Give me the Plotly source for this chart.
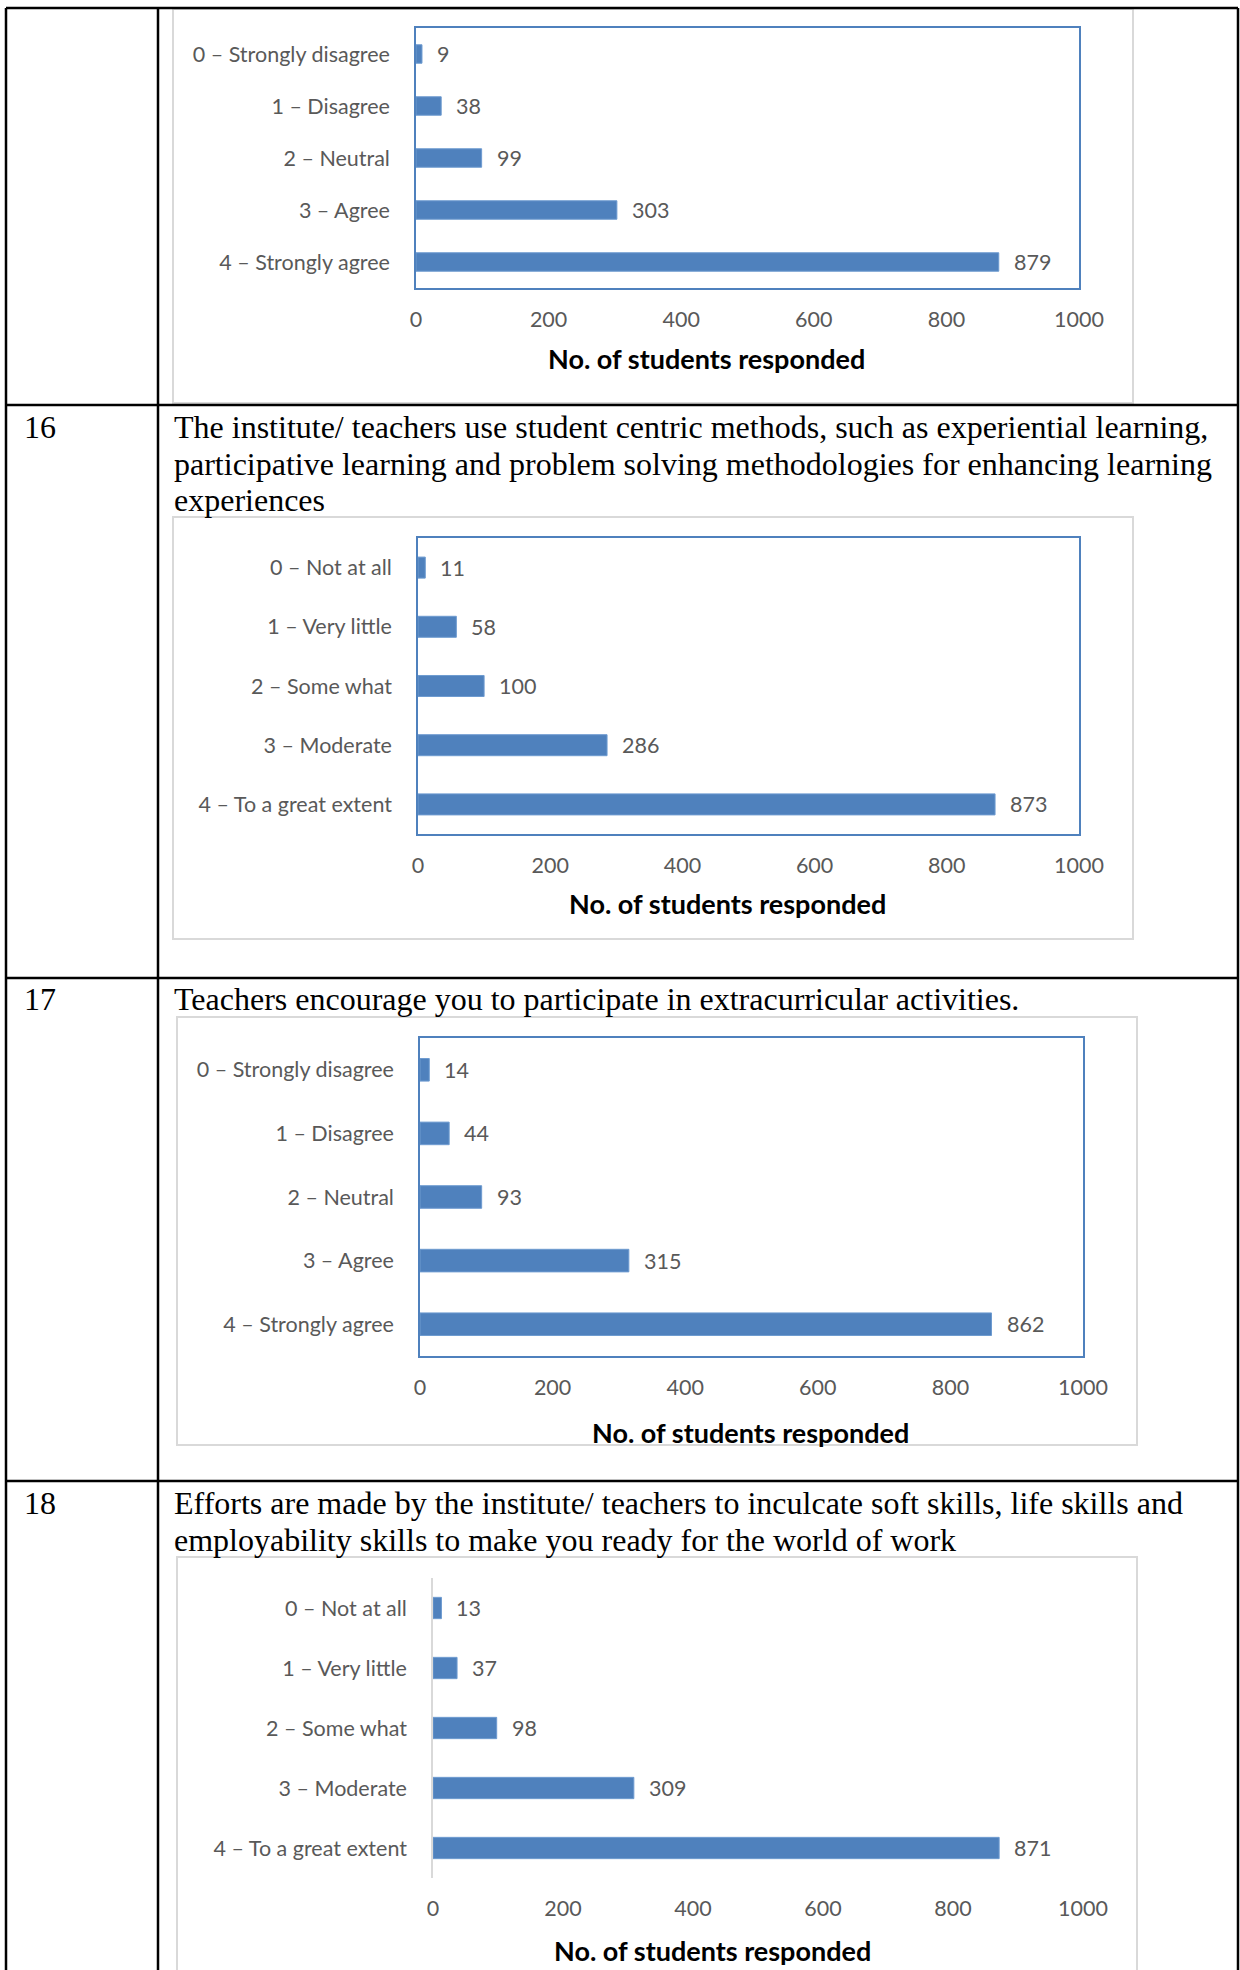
import plotly.graph_objects as go

# ---------------- data ----------------
agree_cats = ["0 – Strongly disagree", "1 – Disagree", "2 – Neutral", "3 – Agree", "4 – Strongly agree"]
extent_cats = ["0 – Not at all", "1 – Very little", "2 – Some what", "3 – Moderate", "4 – To a great extent"]

q15_values = [9, 38, 99, 303, 879]
q16_values = [11, 58, 100, 286, 873]
q17_values = [14, 44, 93, 315, 862]
q18_values = [13, 37, 98, 309, 871]

row_numbers = ["16", "17", "18"]
q16_text = ["The institute/ teachers use student centric methods, such as experiential learning,",
            "participative learning and problem solving methodologies for enhancing learning",
            "experiences"]
q17_text = ["Teachers encourage you to participate in extracurricular activities."]
q18_text = ["Efforts are made by the institute/ teachers to inculcate soft skills, life skills and",
            "employability skills to make you ready for the world of work"]

x_ticks = [0, 200, 400, 600, 800, 1000]
axis_title = "No. of students responded"

# ---------------- layout helpers ----------------
W, H = 1240, 1970
def X(px): return px / W
def Y(py): return 1 - py / H

BAR = "#4F81BD"
GRAY = "#595959"
BOX = "#D9D9D9"
SANS = "Lato, 'Open Sans', sans-serif"
SERIF = "'Liberation Serif', 'Times New Roman', serif"
TICK_SIZE = 21.5
TEXT_SIZE = 32

charts = [
    # cats, values, plot area (l, t, r, b), framed, title centre (x, y), chart box (l, t, r, b)
    dict(cats=agree_cats, vals=q15_values, area=(416, 28, 1079, 288), framed=True, title=(706, 359), box=(173, 9, 1133, 403)),
    dict(cats=extent_cats, vals=q16_values, area=(418, 538, 1079, 834), framed=True, title=(727, 904), box=(173, 517, 1133, 939)),
    dict(cats=agree_cats, vals=q17_values, area=(420, 1038, 1083, 1356), framed=True, title=(751, 1432), box=(177, 1017, 1137, 1445)),
    dict(cats=extent_cats, vals=q18_values, area=(433, 1578, 1083, 1878), framed=False, title=(712, 1950), box=(177, 1557, 1137, 1990)),
]

fig = go.Figure()
annotations = []
shapes = []
layout_axes = {}

for i, c in enumerate(charts, start=1):
    sx = "" if i == 1 else str(i)
    fig.add_trace(go.Bar(
        x=c["vals"], y=c["cats"], orientation="h",
        marker=dict(color=BAR, line=dict(color="#6E9BD0", width=1)),
        width=0.355, xaxis="x" + sx, yaxis="y" + sx, showlegend=False,
        hoverinfo="x+y",
    ))
    l, t, r, b = c["area"]
    line_col = "#4F81BD" if c["framed"] else BOX
    layout_axes["xaxis" + sx] = dict(
        domain=[X(l), X(r)], anchor="y" + sx, range=[0, 1000], automargin=False,
        tickmode="array", tickvals=x_ticks, ticktext=[str(v) for v in x_ticks],
        showgrid=False, zeroline=False,
        showline=c["framed"], mirror=c["framed"], linecolor=line_col, linewidth=1.5,
        ticks="outside", ticklen=11, tickcolor="rgba(0,0,0,0)",
        tickfont=dict(family=SANS, size=TICK_SIZE, color=GRAY), fixedrange=True,
    )
    layout_axes["yaxis" + sx] = dict(
        domain=[Y(b), Y(t)], anchor="x" + sx, type="category", automargin=False,
        categoryorder="array", categoryarray=c["cats"], range=[4.5, -0.5],
        showgrid=False, zeroline=False,
        showline=True, mirror=c["framed"], linecolor=line_col, linewidth=1.5,
        ticks="outside", ticklen=20, tickcolor="rgba(0,0,0,0)",
        tickfont=dict(family=SANS, size=TICK_SIZE, color=GRAY), fixedrange=True,
    )
    # data labels
    for cat, v in zip(c["cats"], c["vals"]):
        annotations.append(dict(
            x=v, y=cat, xref="x" + sx, yref="y" + sx, text=str(v), showarrow=False,
            xanchor="left", yanchor="middle", xshift=13,
            font=dict(family=SANS, size=TICK_SIZE, color=GRAY),
        ))
    # axis title
    tx, ty = c["title"]
    annotations.append(dict(
        x=X(tx), y=Y(ty), xref="paper", yref="paper", text="<b>" + axis_title + "</b>",
        showarrow=False, xanchor="center", yanchor="middle",
        font=dict(family=SANS, size=27, color="#000000"),
    ))
    # chart area border
    bl, bt, br, bb = c["box"]
    shapes.append(dict(type="rect", xref="paper", yref="paper",
                       x0=X(bl), x1=X(br), y0=Y(bb), y1=Y(bt),
                       line=dict(color=BOX, width=2), fillcolor="rgba(0,0,0,0)", layer="below"))

# ---------------- table lines ----------------
TL = dict(color="#000000", width=2.5)
table_left, table_right, col_div, table_top = 6, 1238, 158, 8
for xv in (table_left, col_div, table_right):
    shapes.append(dict(type="line", xref="paper", yref="paper", x0=X(xv), x1=X(xv), y0=Y(table_top), y1=0, line=TL))
for yv in (table_top, 405, 978, 1481):
    shapes.append(dict(type="line", xref="paper", yref="paper", x0=X(table_left), x1=X(table_right), y0=Y(yv), y1=Y(yv), line=TL))

# ---------------- row text ----------------
def add_text(lines, y0, spacing=36.7):
    for k, s in enumerate(lines):
        annotations.append(dict(
            x=X(172), y=Y(y0 + k * spacing), xref="paper", yref="paper", text=s,
            showarrow=False, xanchor="left", yanchor="middle",
            font=dict(family=SERIF, size=TEXT_SIZE, color="#000000"),
        ))

for num, yv in zip(row_numbers, (427, 999, 1503)):
    annotations.append(dict(
        x=X(22), y=Y(yv), xref="paper", yref="paper", text=num, showarrow=False,
        xanchor="left", yanchor="middle", font=dict(family=SERIF, size=TEXT_SIZE, color="#000000"),
    ))
add_text(q16_text, 427)
add_text(q17_text, 999)
add_text(q18_text, 1503)

fig.update_layout(
    width=W, height=H, margin=dict(l=0, r=0, t=0, b=0, pad=0, autoexpand=False),
    paper_bgcolor="white", plot_bgcolor="white",
    annotations=annotations, shapes=shapes, bargap=0.5,
    **layout_axes,
)

fig.write_html(
    "out.html",
    config={"responsive": False, "displayModeBar": False},
    post_script="document.documentElement.style.margin='0';document.body.style.margin='0';"
                "document.body.style.overflow='hidden';document.documentElement.style.overflow='hidden';",
)
